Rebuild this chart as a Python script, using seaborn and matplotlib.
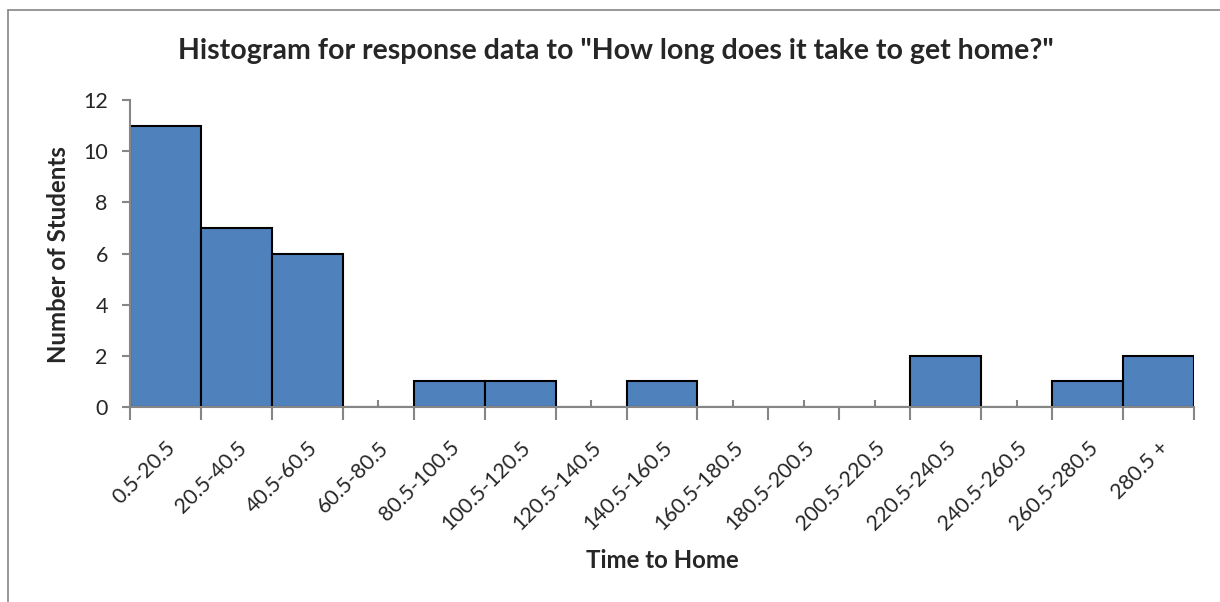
import numpy as np
import pandas as pd
import matplotlib
matplotlib.use("Agg")
import matplotlib.pyplot as plt
import seaborn as sns
from matplotlib.ticker import FixedLocator

# Data
bins = ["0.5-20.5", "20.5-40.5", "40.5-60.5", "60.5-80.5", "80.5-100.5",
        "100.5-120.5", "120.5-140.5", "140.5-160.5", "160.5-180.5",
        "180.5-200.5", "200.5-220.5", "220.5-240.5", "240.5-260.5",
        "260.5-280.5", "280.5 +"]
counts = [11, 7, 6, 0, 1, 1, 0, 1, 0, 0, 0, 2, 0, 1, 2]

df = pd.DataFrame({"Time to Home": bins, "Number of Students": counts})

sns.set_style("white")
plt.rcParams["font.family"] = ["Lato", "DejaVu Sans"]

fig = plt.figure(figsize=(12.2, 6.02), dpi=100)
ax = fig.add_axes([130 / 1220, 1 - 407 / 602, 1064 / 1220, 307 / 602])

sns.barplot(data=df, x="Time to Home", y="Number of Students", ax=ax,
            color="#4F81BD", saturation=1, width=1.0,
            edgecolor="black", linewidth=1.5, order=bins)

ax.set_xlim(-0.5, len(bins) - 0.5)
ax.set_ylim(0, 12)
ax.set_yticks(range(0, 13, 2))

# major ticks at bin edges, minor ticks at bar centres
ax.xaxis.set_major_locator(FixedLocator(np.arange(-0.5, len(bins), 1.0)))
ax.xaxis.set_minor_locator(FixedLocator(np.arange(len(bins))))
ax.set_xticklabels([""] * (len(bins) + 1))
ax.tick_params(axis="x", which="major", direction="out", length=9, width=1.5,
               color="#868686", bottom=True)
ax.tick_params(axis="x", which="minor", direction="in", length=5, width=1.5,
               color="#868686", bottom=True, labelsize=15.3, pad=22)
ax.set_xticklabels(bins, minor=True, rotation=45, ha="right",
                   rotation_mode="anchor")
ax.tick_params(axis="y", which="major", direction="out", length=6, width=1.5,
               color="#868686", left=True, labelsize=15.5, pad=10)

for s in ["top", "right"]:
    ax.spines[s].set_visible(False)
for s in ["left", "bottom"]:
    ax.spines[s].set_color("#868686")
    ax.spines[s].set_linewidth(1.5)

ax.set_xlabel("")
ax.set_ylabel("")
fig.text(662 / 1220, 1 - 561 / 602, "Time to Home", ha="center", va="center",
         fontsize=17.3, fontweight="bold")
fig.text(59 / 1220, 1 - 255 / 602, "Number of Students", ha="center",
         va="center", rotation=90, fontsize=17.3, fontweight="bold")
fig.text(616 / 1220, 1 - 51 / 602,
         'Histogram for response data to "How long does it take to get home?"',
         ha="center", va="center", fontsize=20.5, fontweight="bold")

# chart border
fig.add_artist(plt.Line2D([8 / 1220, 1.0], [1 - 10 / 602, 1 - 10 / 602],
                          transform=fig.transFigure, color="#868686", lw=1.2))
fig.add_artist(plt.Line2D([8 / 1220, 8 / 1220], [0, 1 - 10 / 602],
                          transform=fig.transFigure, color="#868686", lw=1.2))

fig.savefig("out.png", dpi=100)
